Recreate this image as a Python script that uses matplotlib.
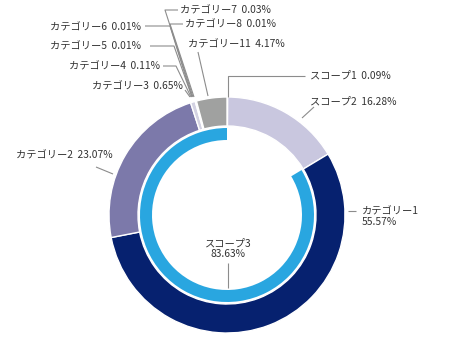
import matplotlib
matplotlib.use("Agg")
import matplotlib.pyplot as plt

plt.rcParams['font.family'] = ['Noto Sans CJK JP', 'DejaVu Sans']

# ---- data ----
outer_labels = ["スコープ1", "スコープ2", "カテゴリー1", "カテゴリー2", "カテゴリー3",
                "カテゴリー4", "カテゴリー5", "カテゴリー6", "カテゴリー7", "カテゴリー8",
                "カテゴリー11"]
outer_values = [0.09, 16.28, 55.57, 23.07, 0.65, 0.11, 0.01, 0.01, 0.03, 0.01, 4.17]
outer_colors = ["#C9C7DF", "#C9C7DF", "#06216F", "#7C79AA", "#D3D2E2",
                "#B8B8B8", "#B0B0B0", "#A8A8A8", "#B4B4B4", "#ACACAC", "#A0A1A0"]
inner_label = "スコープ3"
inner_value = 83.63
inner_rest = 100 - inner_value

W, H = 454, 344
fig = plt.figure(figsize=(W / 100, H / 100), dpi=100)
ax = fig.add_axes([0, 0, 1, 1])
ax.set_xlim(0, W)
ax.set_ylim(H, 0)
ax.axis("off")

cx, cy = 227, 215
R_out, w_out = 118, 29
R_in, w_in = 87, 12

# pie in a flipped axis: counterclock=True appears clockwise
ax.pie(outer_values, colors=outer_colors, center=(cx, cy), radius=R_out,
       startangle=-90, counterclock=True,
       wedgeprops=dict(width=w_out, edgecolor="white", linewidth=1.0), frame=True)
ax.pie([inner_rest, inner_value], colors=["none", "#29A6E0"], center=(cx, cy), radius=R_in,
       startangle=-90, counterclock=True,
       wedgeprops=dict(width=w_in, edgecolor="none", linewidth=0), frame=True)
ax.set_xlim(0, W)
ax.set_ylim(H, 0)
ax.set_aspect("equal")
ax.axis("off")

tc = "#333333"
lc = "#8C8C8C"
fs = 7.4

def lbl(i):
    return f"{outer_labels[i]}  {outer_values[i]:.2f}%"

def line(pts):
    xs, ys = zip(*pts)
    ax.plot(xs, ys, color=lc, lw=0.8, solid_capstyle="butt")

# scope1
line([(228, 97), (228, 76), (305, 76)])
ax.text(310, 76, lbl(0), fontsize=fs, color=tc, ha="left", va="center")
# scope2
line([(302, 118), (314, 107)])
ax.text(310, 102, lbl(1), fontsize=fs, color=tc, ha="left", va="center")
# cat1
line([(348, 211), (356, 211)])
ax.text(362, 217, f"{outer_labels[2]}\n{outer_values[2]:.2f}%", fontsize=fs, color=tc,
        ha="left", va="center", linespacing=1.05)
# cat2
line([(96, 167), (113, 174)])
ax.text(113, 155, lbl(3), fontsize=fs, color=tc, ha="right", va="center")
# cat3
line([(185, 90), (190, 97)])
ax.text(183, 86, lbl(4), fontsize=fs, color=tc, ha="right", va="center")
# cat4
line([(163, 66), (176, 66), (191, 97)])
ax.text(160, 66, lbl(5), fontsize=fs, color=tc, ha="right", va="center")
# cat5
line([(150, 46), (174, 46), (192, 97)])
ax.text(141, 46, lbl(6), fontsize=fs, color=tc, ha="right", va="center")
# cat6
line([(145, 26), (170, 26), (192, 97)])
ax.text(141, 27, lbl(7), fontsize=fs, color=tc, ha="right", va="center")
# cat7
line([(178, 10), (165, 10), (193, 97)])
ax.text(180, 10, lbl(8), fontsize=fs, color=tc, ha="left", va="center")
# cat8
line([(183, 24), (170, 24), (194, 97)])
ax.text(185, 24, lbl(9), fontsize=fs, color=tc, ha="left", va="center")
# cat11
line([(198, 52), (208, 96)])
ax.text(188, 44, lbl(10), fontsize=fs, color=tc, ha="left", va="center")
# scope3
line([(228, 263), (228, 288)])
ax.text(228, 249, f"{inner_label}\n{inner_value:.2f}%", fontsize=fs, color=tc,
        ha="center", va="center", linespacing=1.05)

fig.savefig("out.png", dpi=100, facecolor="white")
